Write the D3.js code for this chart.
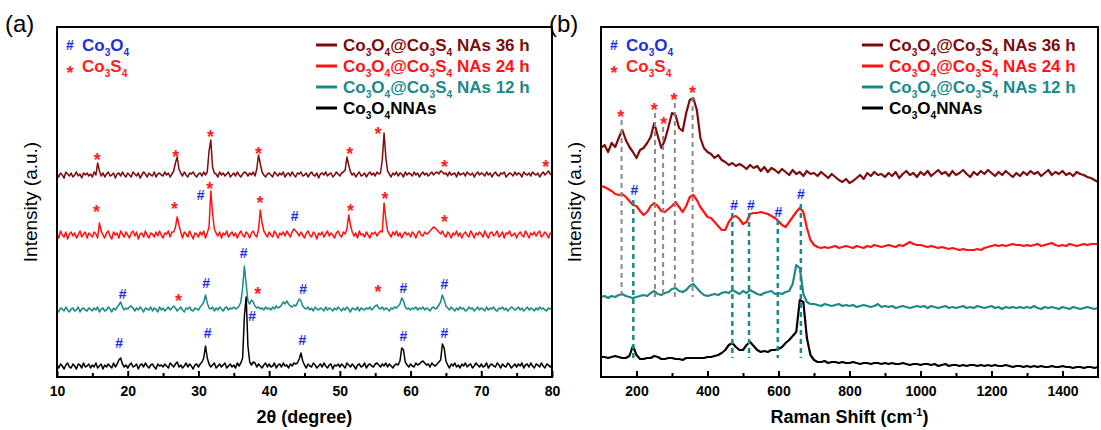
<!DOCTYPE html>
<html lang="en">
<head>
<meta charset="UTF-8">
<title>XRD and Raman spectra</title>
<script src="https://d3js.org/d3.v7.min.js"></script>
<style>
  body { margin: 0; background: #fff; }
  svg { font-family: Arial, "Liberation Sans", sans-serif; }
</style>
</head>
<body>
<div id="chart"></div>
<script>
// ---- data ----
// series order: 36 h, 24 h, 12 h, Co3O4 NNAs
const seriesLabels = ['Co3O4@Co3S4 NAs 36 h', 'Co3O4@Co3S4 NAs 24 h', 'Co3O4@Co3S4 NAs 12 h', 'Co3O4NNAs'];
const seriesColors = ['#7d0b0b', '#ff1212', '#1b8a86', '#000000'];

// XRD, 2theta sampled every 0.25 deg from 10 to 80, intensity above each trace's baseline (a.u.)
const xrdTheta = d3.range(10, 80.001, 0.25);
const xrdOffsets = [217, 157, 82, 26];
const xrd36h = [
  1,-2,2,0,-3,3,1,-1,2,-2, 0,3,-1,1,-3,2,0,2,-1,1,
  -2,3,0,12,4,-1,2,-2,1,3, -1,0,2,-3,1,2,-1,3,0,-2,
  2,0,-2,3,1,-1,2,-3,0,3, 1,-2,2,0,-1,3,-2,1,2,0,
  -1,3,0,2,-2,1,4,12,18,6, 2,-1,3,0,-2,2,1,3,0,-2,
  1,2,-1,3,0,3,24,35,8,2, 1,-2,3,0,2,-1,1,3,-2,0,
  2,-1,3,0,-2,1,3,2,-1,2, 0,3,-1,6,20,11,3,0,-2,1,
  2,0,-2,3,1,-1,2,0,3,-2, 1,2,-1,3,0,-2,2,1,3,-1,
  0,2,-2,1,3,0,-1,2,-3,1, 2,0,3,-1,1,2,-2,0,3,1,
  -1,2,3,5,18,10,3,0,2,-2, 1,3,-1,0,2,-2,1,3,0,2,
  -1,3,1,2,15,42,18,4,1,-2, 2,0,3,-1,2,1,-2,3,0,2,
  1,-1,3,0,2,-2,1,3,0,2, -1,1,3,0,2,3,1,4,3,1,
  2,-1,3,0,1,2,-2,3,0,1, 2,-1,3,1,0,2,-2,1,3,0,
  2,1,-1,3,0,2,-2,1,3,0, -1,2,1,3,-2,0,2,1,-1,3,
  0,2,1,-2,3,1,0,2,-1,3, 1,0,2,-2,1,3,0,2,4,1,
  0];
const xrd24h = [
  2,-3,4,0,-2,3,-4,1,3,-1, 2,-3,0,4,-2,1,3,-3,2,0,
  -2,3,1,-3,12,4,0,-3,2,4, -1,-4,3,0,2,-3,4,1,-2,3,
  0,-3,2,4,-1,3,-4,1,2,-2, 4,0,-3,2,1,-2,3,-1,4,0,
  -3,2,1,4,-2,3,3,8,18,10, 3,-3,3,1,-2,4,0,-4,2,1,
  -2,3,0,4,-3,2,8,44,22,6, 2,-1,3,-3,2,0,4,-2,1,3,
  -1,2,-3,1,4,0,-2,3,1,-3, 2,4,0,-2,6,25,12,4,1,-2,
  3,0,-2,4,1,-3,2,0,3,-1, 4,1,-2,3,6,4,2,-1,3,0,
  -3,2,4,0,-2,3,1,-4,2,0, 3,-2,1,4,-1,2,0,-3,2,4,
  0,-2,3,1,6,20,10,3,-1,2, -3,4,0,1,-2,3,0,-3,2,1,
  3,-1,2,4,3,32,16,4,1,-2, 3,0,4,-1,2,-3,1,3,0,2,
  -2,3,1,-3,2,4,0,-1,3,1, 2,4,6,8,7,5,3,1,4,0,
  -2,3,1,-3,2,0,4,-1,2,-3, 1,3,0,-2,4,1,-3,2,0,3,
  1,-2,4,0,-3,2,3,-1,1,4, -2,0,3,-3,2,1,4,-1,0,2,
  -3,1,3,0,-2,4,1,-3,2,0, 3,-1,2,4,-2,0,3,1,-3,2,
  1];
const xrd12h = [
  0,-2,2,1,-1,3,0,-2,1,2, -1,0,3,-2,1,2,0,-1,2,1,
  -1,2,0,3,-2,1,2,-1,0,3, 1,-2,2,0,3,5,8,3,0,2,
  1,3,4,2,-1,2,0,3,1,-2, 2,1,0,3,-1,2,1,-2,3,0,
  2,-1,1,3,0,2,4,2,-1,1, 3,0,-2,2,1,3,0,-1,2,1,
  0,3,5,8,15,7,2,1,3,-1, 2,0,3,1,-1,2,3,0,2,1,
  3,1,2,4,8,22,44,26,9,6, 10,8,4,2,3,1,2,0,3,1,
  2,0,3,1,4,2,3,5,8,6, 9,6,4,3,5,4,7,11,9,4,
  2,1,3,0,2,-1,3,1,0,2, 1,-1,3,0,2,1,-1,2,0,3,
  1,-1,2,0,3,1,-2,2,1,0, 3,-1,2,1,0,2,1,3,0,2,
  4,5,2,1,3,0,2,1,-1,2, 1,3,2,4,6,12,9,3,1,2,
  0,2,1,3,0,2,1,3,0,2, 1,-1,2,3,1,2,5,8,15,10,
  4,2,0,3,1,-1,2,0,3,1, 2,-1,0,3,1,2,-1,1,3,0,
  2,1,-1,3,0,2,1,3,0,-1, 2,1,3,0,2,-1,1,3,2,0,
  1,3,0,2,-1,1,3,0,2,1, -1,2,0,3,1,2,0,-1,2,1,
  2];
const xrdNNAs = [
  1,-2,2,0,-3,1,3,-1,-2,2, 0,-3,2,1,-2,3,-1,0,2,-2,
  1,-1,3,-2,0,2,-3,1,-1,2, 0,-2,3,-1,2,6,8,2,-1,1,
  -2,1,3,-1,0,2,-3,1,2,-1, 3,0,-2,1,2,-1,-3,2,0,1,
  -1,2,0,-2,3,1,-1,2,4,-1, 1,-2,0,3,-1,2,0,-3,1,2,
  -1,2,4,8,20,8,2,-1,1,3, -2,0,2,-1,1,3,-2,0,2,-1,
  1,-2,3,0,3,8,50,69,20,4, 1,4,3,-1,2,0,-2,1,3,-1,
  2,-1,0,3,-2,1,2,-1,3,0, 1,-2,2,0,3,2,3,7,13,5,
  1,-2,2,0,-1,3,1,-2,0,2, -1,3,0,-2,1,2,-3,1,0,2,
  -1,2,0,-2,3,1,-1,2,0,-3, 1,2,-1,0,3,-2,1,2,0,-1,
  2,3,1,-1,2,0,3,-1,2,0, -2,1,2,1,5,18,16,4,1,-1,
  2,0,-1,3,1,2,4,5,3,1, 2,-1,3,1,0,2,4,6,22,18,
  5,1,-2,2,0,3,-1,1,-2,2, 0,3,-1,1,2,-2,0,3,1,-1,
  2,-1,0,3,-2,1,2,0,-1,3, 1,-2,2,0,-1,3,1,-2,0,2,
  -1,2,0,3,-2,1,2,-1,3,0, -2,2,1,-1,3,0,-2,2,1,-1,
  1];

// XRD phase markers: [2theta, intensity, symbol]
const xrdMarks = [
  [15.7,239,'*'],[26.8,242,'*'],[31.7,262,'*'],[38.5,245,'*'],[51.4,245,'*'],[55.4,265,'*'],[64.8,232,'*'],[79.1,232,'*'],
  [15.6,187,'*'],[26.6,190,'*'],[30.3,197,'#'],[31.6,210,'*'],[38.7,196,'*'],[43.6,176,'#'],[51.5,188,'*'],[56.4,200,'*'],[64.8,177,'*'],
  [19.3,98,'#'],[27.2,98,'*'],[31.1,109,'#'],[36.4,139,'#'],[38.4,105,'*'],[37.6,76,'#'],[44.8,103,'#'],[55.4,107,'*'],[59.0,104,'#'],[64.8,108,'#'],
  [18.8,49,'#'],[31.3,59,'#'],[44.7,52,'#'],[59.0,56,'#'],[64.8,59,'#']
];

// Raman, shift sampled every 10 cm-1 from 100 to 1500 (a.u.)
const ramanShift = d3.range(100, 1500.001, 10);
const raman36h = [
  244,247,240,249,245,254,262,252,245,240, 234,242,244,249,255,269,256,244,252,265,
  279,277,264,261,279,292,294,282,254,244,
  240,238,234,237,232,230,227,229,226,228, 226,223,227,224,226,221,225,220,224,222,
  219,223,220,217,222,218,220,216,221,218,
  219,216,220,217,214,218,215,212,210,213, 209,211,214,217,213,219,216,220,217,218,
  215,219,216,220,214,218,221,217,219,215,
  220,217,221,216,219,222,218,220,216,221, 217,219,222,218,215,220,217,221,218,222,
  219,216,220,217,221,218,215,219,216,220,
  217,221,218,220,216,219,222,217,220,218, 221,217,219,216,220,218,217,215,214,212,
  210];
const raman24h = [
  206,205,203,201,198,197,198,195,191,187, 186,181,177,180,186,189,186,181,180,183,
  186,190,185,180,186,195,197,192,185,180,
  175,174,170,166,162,162,170,175,176,173, 168,170,178,179,179,180,179,178,176,174,
  171,167,165,170,175,180,184,180,164,152,
  147,145,144,145,144,145,146,144,145,146, 145,144,146,145,144,146,145,147,146,145,
  146,147,146,145,147,146,148,150,148,147,
  147,146,145,146,145,144,145,144,143,144, 143,142,143,142,142,142,143,142,144,145,
  146,147,146,147,146,147,148,147,147,146,
  147,146,147,148,146,147,148,149,147,146, 147,146,148,147,146,147,148,147,148,148,
  148];
const raman12h = [
  95,96,94,96,95,97,98,96,95,94, 95,96,97,96,99,101,98,97,99,100,
  103,104,101,100,102,106,108,104,100,97,
  96,97,98,97,99,100,99,102,100,98, 101,99,102,100,98,97,99,100,101,98,
  99,98,100,101,108,127,124,98,90,88,
  88,87,86,88,87,86,87,88,86,87, 86,87,85,86,87,86,85,86,88,85,
  86,85,86,84,85,86,85,84,85,86,
  85,86,84,86,85,84,85,86,84,85, 84,85,86,84,85,84,86,85,84,85,
  86,84,85,83,85,84,85,84,85,84,
  85,84,86,84,83,85,84,85,84,83, 85,84,83,85,84,83,84,85,84,83,
  84];
const ramanNNAs = [
  35,35,34,35,36,35,34,34,36,46, 37,33,33,34,34,36,35,33,33,34,
  34,33,33,32,34,34,34,34,34,34,
  35,35,36,37,39,42,47,49,45,42, 42,47,50,46,42,40,41,40,42,42,
  43,45,49,52,56,60,92,90,54,37,
  32,30,30,31,29,30,30,29,30,29, 29,30,29,28,29,29,28,29,29,28,
  29,28,29,28,28,29,28,27,28,28,
  27,28,28,27,28,26,27,28,26,27, 27,26,27,26,27,27,26,27,26,27,
  26,27,26,26,27,26,25,26,26,25,
  26,25,26,25,26,25,25,26,25,25, 26,25,25,24,25,25,24,25,25,24,
  25];

// Raman guide lines: [shift, top, bottom] and markers [shift, intensity, symbol]
const ramanS4Lines = [[158,272,95],[252,279,95],[275,265,95],[308,289,95],[358,295,95]];
const ramanO4Lines = [[191,192,34],[470,179,34],[517,179,34],[598,172,34],[663,188,34]];
const ramanMarks = [
  [156,282,'*'],[250,289,'*'],[277,275,'*'],[306,299,'*'],[358,306,'*'],
  [194,202,'#'],[475,187,'#'],[522,187,'#'],[600,180,'#'],[663,198,'#']
];

const xrdTicks = [10, 20, 30, 40, 50, 60, 70, 80];
const xrdMinor = [15, 25, 35, 45, 55, 65, 75];
const ramanTicks = [200, 400, 600, 800, 1000, 1200, 1400];
const ramanMinor = [300, 500, 700, 900, 1100, 1300];

// ---- drawing ----
const width = 1101, height = 430;
const plotTop = 27, plotBottom = 377;
const markColor = { '#': '#1f2fe0', '*': '#ff2020' };

const svg = d3.select('#chart').append('svg')
  .attr('width', width).attr('height', height);

const y = d3.scaleLinear().domain([15, 365]).range([plotBottom, plotTop]);

// text with chemical subscripts (a digit right after a letter)
function richText(sel, str, size) {
  const parts = [];
  for (let i = 0; i < str.length; i++) {
    const sub = /\d/.test(str[i]) && i > 0 && /[A-Za-z]/.test(str[i - 1]);
    const last = parts[parts.length - 1];
    if (last && last.sub === sub) last.s += str[i];
    else parts.push({ s: str[i], sub: sub });
  }
  const shift = size * 0.3;
  parts.forEach((p, i) => {
    const t = sel.append('tspan').text(p.s);
    if (p.sub) t.attr('font-size', size * 0.6).attr('dy', shift);
    else if (i > 0) t.attr('dy', -shift);
  });
}

function drawPanel(o) {
  const g = svg.append('g');
  const x = d3.scaleLinear().domain(o.domain).range([o.left, o.right]);

  const line = d3.line().x(d => x(d[0])).y(d => y(d[1]));
  o.series.forEach((vals, i) => {
    g.append('path')
      .datum(o.xs.map((xv, k) => [xv, vals[k]]))
      .attr('fill', 'none')
      .attr('stroke', seriesColors[i])
      .attr('stroke-width', o.lineWidth)
      .attr('stroke-linejoin', 'round')
      .attr('d', line);
  });

  (o.guides || []).forEach(gd => {
    gd.data.forEach(d => {
      g.append('line')
        .attr('x1', x(d[0])).attr('x2', x(d[0]))
        .attr('y1', y(d[1])).attr('y2', y(d[2]))
        .attr('stroke', gd.color).attr('stroke-width', gd.width)
        .attr('stroke-dasharray', '5,4');
    });
  });

  g.selectAll('text.mark').data(o.marks).enter().append('text')
    .attr('class', 'mark')
    .attr('x', d => x(d[0]))
    .attr('y', d => y(d[1]))
    .attr('text-anchor', 'middle')
    .attr('dy', d => d[2] === '*' ? '0.72em' : '0.35em')
    .attr('font-weight', 'bold')
    .attr('font-size', d => d[2] === '*' ? 18 : 14)
    .attr('fill', d => markColor[d[2]])
    .text(d => d[2]);

  // frame
  g.append('rect')
    .attr('x', o.left).attr('y', plotTop)
    .attr('width', o.right - o.left).attr('height', plotBottom - plotTop)
    .attr('fill', 'none').attr('stroke', '#000').attr('stroke-width', 2);

  const ax = g.append('g').attr('transform', `translate(0,${plotBottom})`)
    .call(d3.axisBottom(x).tickValues(o.ticks).tickSizeInner(-6).tickSizeOuter(0).tickPadding(9)
      .tickFormat(d3.format('d')));
  ax.select('.domain').remove();
  ax.selectAll('line').attr('stroke-width', 2);
  ax.selectAll('text').attr('font-size', 14).attr('font-weight', 'bold')
    .attr('font-family', 'Arial, "Liberation Sans", sans-serif').attr('fill', '#000');

  const mn = g.append('g').attr('transform', `translate(0,${plotBottom})`)
    .call(d3.axisBottom(x).tickValues(o.minor).tickSizeInner(-4).tickSizeOuter(0).tickFormat(''));
  mn.select('.domain').remove();
  mn.selectAll('line').attr('stroke-width', 2);

  // axis titles
  const xt = g.append('text')
    .attr('x', (o.left + o.right) / 2).attr('y', 423)
    .attr('text-anchor', 'middle').attr('font-size', 18).attr('font-weight', 'bold');
  o.xTitle(xt);

  g.append('text')
    .attr('transform', `translate(${o.left - 20},${(plotTop + plotBottom) / 2}) rotate(-90)`)
    .attr('text-anchor', 'middle').attr('font-size', 19)
    .text('Intensity (a.u.)');

  g.append('text').attr('x', o.left - 52).attr('y', 32)
    .attr('font-size', 24).text(o.tag);

  // phase legend
  [['#', 'Co3O4', 45], ['*', 'Co3S4', 66]].forEach(([s, lbl, ly]) => {
    g.append('text').attr('x', o.left + 13).attr('y', ly).attr('dy', s === '*' ? '0.72em' : '0.35em')
      .attr('text-anchor', 'middle').attr('font-weight', 'bold')
      .attr('font-size', s === '*' ? 18 : 14).attr('fill', markColor[s]).text(s);
    const t = g.append('text').attr('x', o.left + 25).attr('y', ly + 6)
      .attr('font-weight', 'bold').attr('font-size', 17).attr('fill', markColor[s]);
    richText(t, lbl, 17);
  });

  // series legend
  seriesLabels.forEach((lbl, i) => {
    const ly = 45 + i * 21;
    g.append('line').attr('x1', o.legendX).attr('x2', o.legendX + 21)
      .attr('y1', ly).attr('y2', ly)
      .attr('stroke', seriesColors[i]).attr('stroke-width', 3);
    const t = g.append('text').attr('x', o.legendX + 27).attr('y', ly + 6)
      .attr('font-weight', 'bold').attr('font-size', 17).attr('fill', seriesColors[i]);
    richText(t, lbl, 17);
  });
}

drawPanel({
  tag: '(a)', left: 57, right: 552, domain: [10, 80],
  xs: xrdTheta,
  series: [xrd36h, xrd24h, xrd12h, xrdNNAs].map((s, i) => s.map(v => v + xrdOffsets[i])),
  lineWidth: 1.5, marks: xrdMarks, ticks: xrdTicks, minor: xrdMinor, legendX: 316,
  xTitle: t => t.text('2\u03b8 (degree)')
});

drawPanel({
  tag: '(b)', left: 601, right: 1098, domain: [100, 1500],
  xs: ramanShift,
  series: [raman36h, raman24h, raman12h, ramanNNAs],
  lineWidth: 2.2, marks: ramanMarks, ticks: ramanTicks, minor: ramanMinor, legendX: 862,
  guides: [
    { data: ramanS4Lines, color: '#8a8a8a', width: 2 },
    { data: ramanO4Lines, color: '#1b8a86', width: 2.5 }
  ],
  xTitle: t => {
    t.append('tspan').text('Raman Shift (cm');
    t.append('tspan').attr('font-size', 11).attr('dy', -7).text('-1');
    t.append('tspan').attr('dy', 7).text(')');
  }
});
</script>
</body>
</html>
